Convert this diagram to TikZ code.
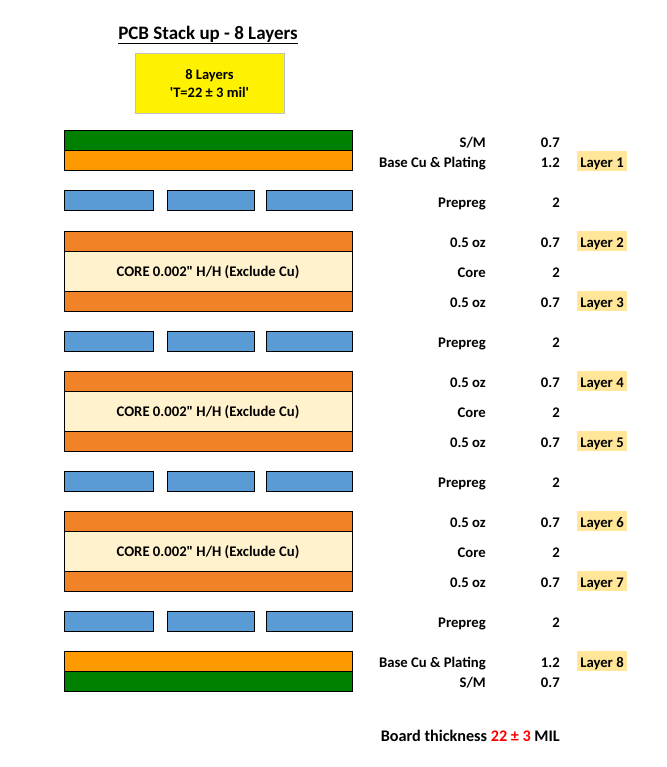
\documentclass[tikz,border=0pt]{standalone}
\usepackage{fontspec}
\setmainfont{Carlito}[Ligatures=TeXOff]
\usetikzlibrary{positioning}
\definecolor{mask green}{RGB}{0,128,0}
\definecolor{base copper}{RGB}{255,153,0}
\definecolor{inner copper}{RGB}{242,130,40}
\definecolor{core cream}{RGB}{255,242,204}
\definecolor{prepreg blue}{RGB}{91,155,213}
\definecolor{layer gold}{RGB}{255,230,153}
\definecolor{note red}{RGB}{255,0,0}
\tikzset{
    % Layers
    sheet/.style={draw=black,line width=1pt},
    mask sheet/.style={sheet,fill=mask green},
    base sheet/.style={sheet,fill=base copper},
    copper sheet/.style={sheet,fill=inner copper},
    core sheet/.style={sheet,fill=core cream},
    prepreg sheet/.style={sheet,fill=prepreg blue},
    %
    % Texts
    row label/.style={anchor=east},
    row value/.style={anchor=east},
    layer tag/.style={fill=layer gold,minimum width=50pt,minimum height=20pt},
    title box/.style={draw=black!25,line width=1pt,fill=yellow,minimum width=149pt,minimum height=60pt,
        font=\bfseries\fontsize{14.5}{18}\selectfont,align=center,text height=,text depth=}
}
\tikzstyle{every node}=[font=\bfseries\fontsize{14.7}{18}\selectfont,inner sep=0pt,text height=14pt,text depth=1.2pt]

\begin{document}
\begin{tikzpicture}[x=1pt,y=-1pt]
        \useasboundingbox (0,0) rectangle (666,767);
        \node[text height=,text depth=] (title) at (208,35) {\fontsize{19}{22}\selectfont\underline{PCB Stack up - 8 Layers}};
        \node[title box] (thick) at (209.5,84) {8 Layers\\[0pt]'T=22 ± 3 mil'};
        % outer layers
        \draw[mask sheet] (64,131) rectangle (352,151);
        \draw[base sheet] (64,151) rectangle (352,171);
        \draw[base sheet] (64,651) rectangle (352,671);
        \draw[mask sheet] (64,671) rectangle (352,691);
        % prepreg
        \foreach \y in {191,331,471,611}{
            \draw[prepreg sheet] (64,\y) rectangle (153,\y+20);
            \draw[prepreg sheet] (167,\y) rectangle (254,\y+20);
            \draw[prepreg sheet] (266,\y) rectangle (352,\y+20);
        }
        % cores
        \foreach \y [count=\n] in {231,371,511}{
            \draw[copper sheet] (64,\y) rectangle (352,\y+20);
            \draw[core sheet] (64,\y+20) rectangle (352,\y+60);
            \draw[copper sheet] (64,\y+60) rectangle (352,\y+80);
            \node (core-\n) at (208,\y+39) {CORE 0.002" H/H (Exclude Cu)};
        }
        % table
        \foreach \y/\lbl/\val [count=\n] in {141/{S/M}/0.7, 161/{Base Cu \& Plating}/1.2, 201/Prepreg/2,
            241/0.5 oz/0.7, 271/Core/2, 301/0.5 oz/0.7, 341/Prepreg/2, 381/0.5 oz/0.7, 411/Core/2,
            441/0.5 oz/0.7, 481/Prepreg/2, 521/0.5 oz/0.7, 551/Core/2, 581/0.5 oz/0.7, 621/Prepreg/2,
            661/{Base Cu \& Plating}/1.2, 681/{S/M}/0.7}{
            \node[row label] (lbl-\n) at (486,\y) {\lbl};
            \node[row value] (val-\n) at (560,\y) {\val};
        }
        \foreach \y [count=\n] in {161,241,301,381,441,521,581,661}{
            \node[layer tag] (layer-\n) at (602,\y) {Layer \n};
        }
        \node[anchor=east,font=\bfseries\fontsize{16.2}{19}\selectfont] (total) at (560,735) {Board thickness \textcolor{note red}{22 ± 3} MIL};
    \end{tikzpicture}
\end{document}
